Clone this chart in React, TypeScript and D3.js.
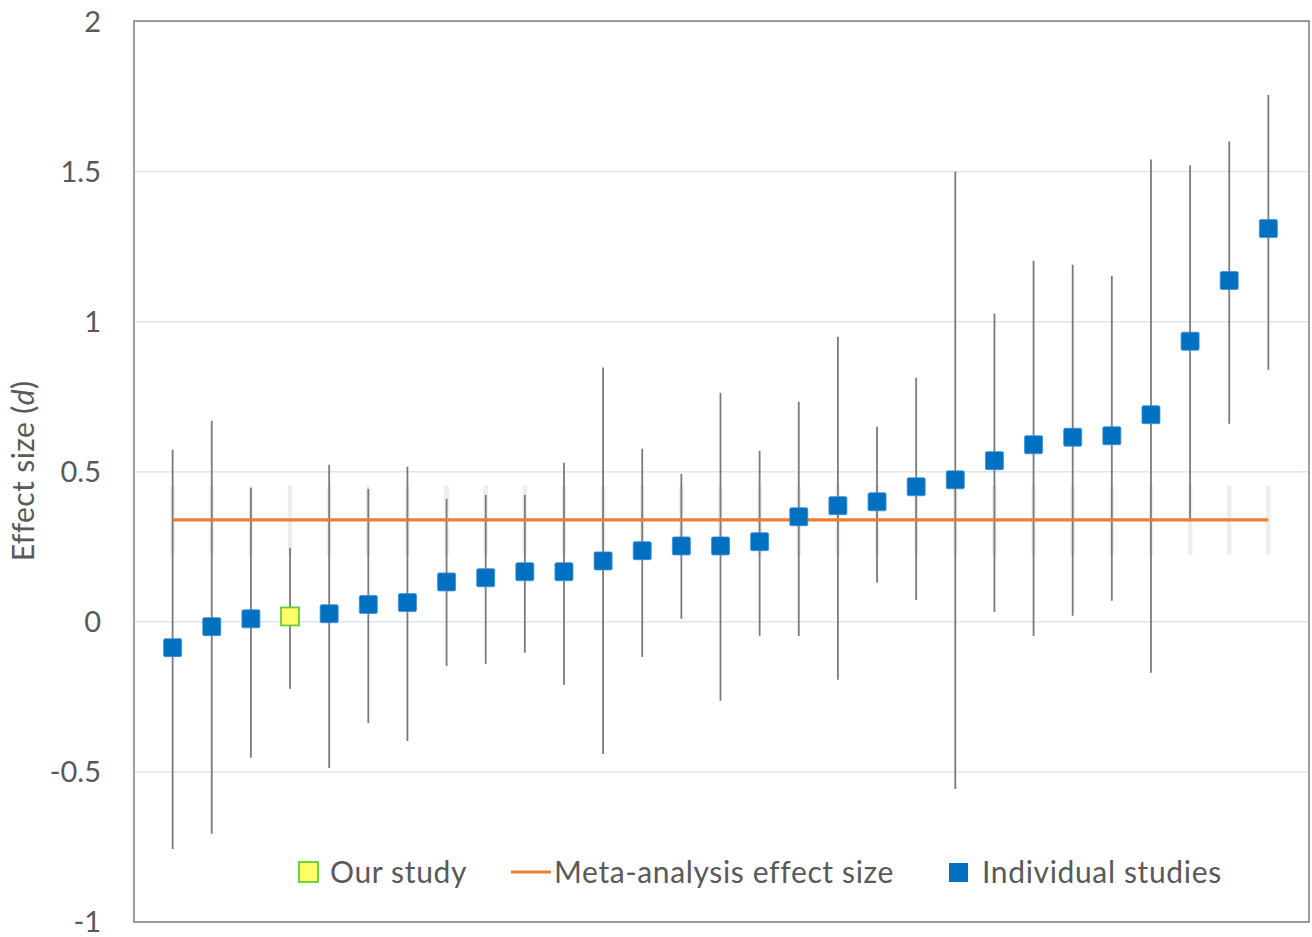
import React from "react";
import * as d3 from "d3";

const studyIndex = [1, 2, 3, 4, 5, 6, 7, 8, 9, 10, 11, 12, 13, 14, 15, 16, 17, 18, 19, 20, 21, 22, 23, 24, 25, 26, 27, 28, 29];
const effectSize = [-0.086, -0.016, 0.01, 0.018, 0.027, 0.058, 0.064, 0.133, 0.147, 0.167, 0.167, 0.203, 0.237, 0.253, 0.253, 0.267, 0.35, 0.387, 0.4, 0.45, 0.473, 0.537, 0.59, 0.615, 0.62, 0.69, 0.935, 1.137, 1.31];
const upperCI = [0.573, 0.67, 0.447, 0.247, 0.523, 0.443, 0.517, 0.41, 0.423, 0.423, 0.53, 0.847, 0.577, 0.493, 0.763, 0.57, 0.733, 0.95, 0.65, 0.813, 1.5, 1.027, 1.203, 1.19, 1.153, 1.54, 1.52, 1.6, 1.755];
const lowerCI = [-0.757, -0.706, -0.453, -0.223, -0.487, -0.337, -0.397, -0.147, -0.14, -0.103, -0.21, -0.44, -0.117, 0.01, -0.263, -0.047, -0.047, -0.193, 0.13, 0.073, -0.557, 0.033, -0.047, 0.02, 0.07, -0.17, 0.335, 0.66, 0.84];
const ourStudyIndex = 4;
const metaEffect = 0.34;
const metaLower = 0.222;
const metaUpper = 0.454;
const yTicks = [-1, -0.5, 0, 0.5, 1, 1.5, 2];
const yTickLabels = ["-1", "-0.5", "0", "0.5", "1", "1.5", "2"];
const legendLabels = ["Our study", "Meta-analysis effect size", "Individual studies"];

const W = 1312;
const H = 937;
const FONT = "Lato, 'Open Sans', sans-serif";
const TEXT = "#595959";

export default function App() {
  const x = d3.scaleLinear().domain([0, 30]).range([133.5, 1307.5]);
  const y = d3.scaleLinear().domain([-1, 2]).range([922, 21.5]);
  const frameL = 134, frameR = 1309, frameT = 21, frameB = 922;
  const ms = 18;

  return (
    <svg width={W} height={H} style={{ position: "absolute", left: 0, top: 0, background: "#fff" }}>
      <rect x={0} y={0} width={W} height={H} fill="#fff" />
      {/* gridlines */}
      {yTicks.map((t) => (
        <line key={"g" + t} x1={frameL} x2={frameR} y1={y(t)} y2={y(t)} stroke="#dce7f4" strokeWidth={1.5} />
      ))}
      {/* meta-analysis CI band */}
      {studyIndex.map((i) => (
        <line key={"b" + i} x1={x(i)} x2={x(i)} y1={y(metaUpper)} y2={y(metaLower)} stroke="#eeeeee" strokeWidth={4.5} />
      ))}
      {/* error bars */}
      {studyIndex.map((i, k) => (
        <line key={"e" + i} x1={x(i)} x2={x(i)} y1={y(upperCI[k])} y2={y(lowerCI[k])} stroke="#7a7a7a" strokeWidth={1.8} />
      ))}
      {/* meta line */}
      <line x1={x(studyIndex[0])} x2={x(studyIndex[studyIndex.length - 1])} y1={y(metaEffect)} y2={y(metaEffect)} stroke="#ED7D31" strokeWidth={3.2} />
      {/* markers */}
      {studyIndex.map((i, k) =>
        i === ourStudyIndex ? (
          <rect key={"m" + i} x={x(i) - ms / 2} y={y(effectSize[k]) - ms / 2} width={ms} height={ms} fill="#FFFF66" stroke="#66CC33" strokeWidth={1.8} />
        ) : (
          <rect key={"m" + i} x={x(i) - ms / 2} y={y(effectSize[k]) - ms / 2} width={ms} height={ms} rx={1.5} fill="#0070C0" stroke="#3d8fd4" strokeWidth={0.8} />
        )
      )}
      {/* frame */}
      <rect x={frameL} y={frameT} width={frameR - frameL} height={frameB - frameT} fill="none" stroke="#7f7f7f" strokeWidth={1.5} />
      {/* y tick labels */}
      {yTicks.map((t, k) => (
        <text key={"t" + t} x={101} y={y(t)} dy="0.36em" textAnchor="end" fontFamily={FONT} fontSize={29} fill={TEXT}>
          {yTickLabels[k]}
        </text>
      ))}
      {/* y title */}
      <text transform={`translate(33.5, 471) rotate(-90)`} textAnchor="middle" fontFamily={FONT} fontSize={30} letterSpacing={0.4} fill={TEXT}>
        Effect size (<tspan fontStyle="italic">d</tspan>)
      </text>
      {/* legend */}
      <g fontFamily={FONT} fontSize={30} letterSpacing={0.65} fill={TEXT}>
        <rect x={299} y={862} width={19} height={20} fill="#FFFF66" stroke="#66CC33" strokeWidth={1.8} />
        <text x={330} y={872} dy="0.36em">{legendLabels[0]}</text>
        <line x1={511} x2={551} y1={872} y2={872} stroke="#ED7D31" strokeWidth={3.2} />
        <text x={554} y={872} dy="0.36em">{legendLabels[1]}</text>
        <rect x={949} y={863} width={19} height={19} fill="#0070C0" />
        <text x={982} y={872} dy="0.36em">{legendLabels[2]}</text>
      </g>
    </svg>
  );
}
